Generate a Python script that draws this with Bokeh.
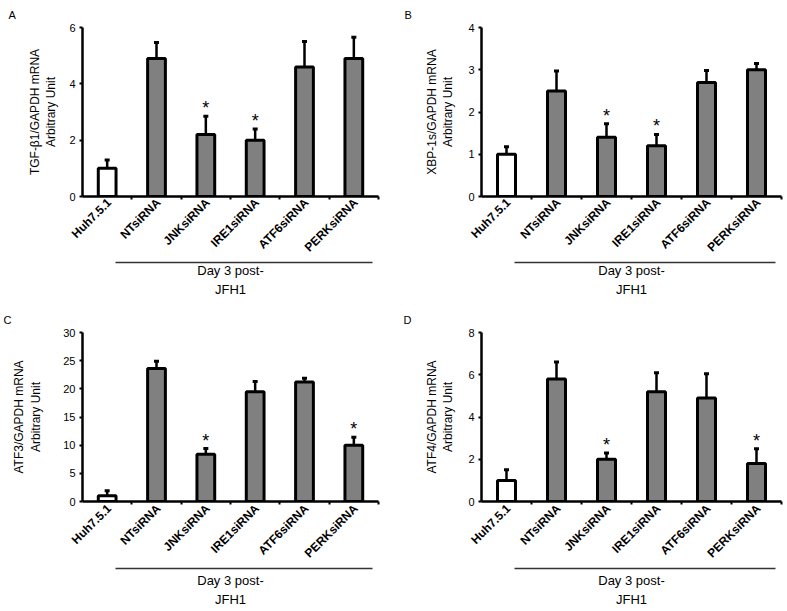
from bokeh.plotting import figure
from bokeh.layouts import gridplot
from bokeh.models import Range1d, FixedTicker, LinearAxis, Title
from bokeh.embed import file_html
from bokeh.resources import INLINE

categories = ["Huh7.5.1", "NTsiRNA", "JNKsiRNA", "IRE1siRNA", "ATF6siRNA", "PERKsiRNA"]

tgfb1_mean = [1.0, 4.9, 2.2, 2.0, 4.6, 4.9]
tgfb1_err = [0.3, 0.57, 0.65, 0.4, 0.9, 0.75]
tgfb1_sig = [False, False, True, True, False, False]

xbp1s_mean = [1.0, 2.5, 1.4, 1.2, 2.7, 3.0]
xbp1s_err = [0.18, 0.47, 0.32, 0.27, 0.28, 0.15]
xbp1s_sig = [False, False, True, True, False, False]

atf3_mean = [1.0, 23.6, 8.4, 19.5, 21.2, 10.0]
atf3_err = [0.9, 1.3, 1.0, 1.8, 0.7, 1.4]
atf3_sig = [False, False, True, False, False, True]

atf4_mean = [1.0, 5.8, 2.0, 5.2, 4.9, 1.8]
atf4_err = [0.5, 0.8, 0.3, 0.9, 1.15, 0.7]
atf4_sig = [False, False, True, False, False, True]

group_label = "Day 3 post-\nJFH1"

FONT = "Liberation Sans"
GRAY = "#808080"


def panel(letter, ylabel, means, errs, sig, ymax, ystep,
          width, height, left, right, top, frame_h,
          ylab_standoff, lab_standoff, group_standoff):
    n = len(categories)
    p = figure(width=width, height=height,
               x_range=Range1d(0, n), y_range=Range1d(0, ymax),
               output_backend="svg", toolbar_location=None,
               min_border_left=left, min_border_right=right,
               min_border_top=top, min_border_bottom=height - top - frame_h)
    p.outline_line_color = None
    p.grid.visible = False
    p.background_fill_color = "white"

    xs = [i + 0.5 for i in range(n)]
    uppers = [m + e for m, e in zip(means, errs)]
    fills = ["white"] + [GRAY] * (n - 1)

    p.vbar(x=xs, top=means, bottom=0, width=0.36, fill_color=fills,
           line_color="black", line_width=3)
    p.segment(x0=xs, y0=means, x1=xs, y1=uppers, line_color="black", line_width=2.5)
    p.scatter(x=xs, y=uppers, marker="dash", size=5, line_color="black", line_width=3)

    sx = [x for x, s in zip(xs, sig) if s]
    sy = [u for u, s in zip(uppers, sig) if s]
    p.text(x=sx, y=sy, text=["*"] * len(sx), text_align="center",
           text_baseline="alphabetic", y_offset=-8,
           text_font_size="18px", text_color="black", text_font={"value": FONT})

    # y axis
    ya = p.yaxis[0]
    ya.ticker = FixedTicker(ticks=list(range(0, ymax + 1, ystep)))
    ya.axis_line_width = 2.5
    ya.axis_line_color = "black"
    ya.major_tick_out = 3
    ya.major_tick_in = 0
    ya.minor_tick_out = 0
    ya.minor_tick_in = 0
    ya.major_tick_line_width = 2
    ya.major_label_standoff = 4
    ya.major_label_text_font = FONT
    ya.major_label_text_font_size = "11px"
    ya.major_label_text_color = "black"
    ya.axis_label = ylabel
    ya.axis_label_text_font = FONT
    ya.axis_label_text_font_size = "12px"
    ya.axis_label_text_font_style = "normal"
    ya.axis_label_text_color = "black"
    ya.axis_label_standoff = ylab_standoff

    # x axis: category labels near centres, ticks at boundaries
    lab_x = [x + 0.04 for x in xs]
    xa = p.xaxis[0]
    xa.ticker = FixedTicker(ticks=lab_x, minor_ticks=list(range(1, n + 1)))
    xa.major_label_overrides = {x: c for x, c in zip(lab_x, categories)}
    xa.major_label_orientation = 0.785398
    xa.axis_line_width = 2.5
    xa.axis_line_color = "black"
    xa.major_tick_out = 0
    xa.major_tick_in = 0
    xa.minor_tick_out = 3
    xa.minor_tick_in = 0
    xa.minor_tick_line_width = 2
    xa.major_label_standoff = lab_standoff
    xa.major_label_text_font = FONT
    xa.major_label_text_font_size = "12px"
    xa.major_label_text_font_style = "bold"
    xa.major_label_text_color = "black"

    # group line and label
    g = LinearAxis(bounds=(0.66, 5.88), ticker=FixedTicker(ticks=[]))
    g.axis_line_width = 1.5
    g.axis_line_color = "#333333"
    g.major_tick_out = 0
    g.major_tick_in = 0
    g.minor_tick_out = 0
    g.minor_tick_in = 0
    g.major_label_text_font_size = "0px"
    g.axis_label = group_label
    g.axis_label_text_font = FONT
    g.axis_label_text_font_size = "13px"
    g.axis_label_text_font_style = "normal"
    g.axis_label_text_line_height = 1.27
    g.axis_label_text_color = "black"
    g.axis_label_standoff = group_standoff
    p.add_layout(g, "below")

    # panel letter
    p.add_layout(Title(text=letter, align="left", offset=-(left - 3), vertical_align="top",
                       text_font=FONT, text_font_size="11px",
                       text_font_style="normal", text_color="black"), "above")
    return p


pa = panel("A", "TGF-\u03b21/GAPDH mRNA\nArbitrary Unit", tgfb1_mean, tgfb1_err, tgfb1_sig,
           6, 2, 400, 305, 77, 21, 27, 169, 8, 1, 0)
pb = panel("B", "XBP-1s/GAPDH mRNA\nArbitrary Unit", xbp1s_mean, xbp1s_err, xbp1s_sig,
           4, 1, 387, 305, 80, 4, 27, 169, 10, 1, 0)
pc = panel("C", "ATF3/GAPDH mRNA\nArbitrary Unit", atf3_mean, atf3_err, atf3_sig,
           30, 5, 400, 306, 82, 22, 27, 169, 17, 2, 4)
pd = panel("D", "ATF4/GAPDH mRNA\nArbitrary Unit", atf4_mean, atf4_err, atf4_sig,
           8, 2, 387, 306, 81, 6, 27, 169, 10, 2, 4)

grid = gridplot([[pa, pb], [pc, pd]], toolbar_location=None)

open("out.html", "w").write(file_html(grid, INLINE))
